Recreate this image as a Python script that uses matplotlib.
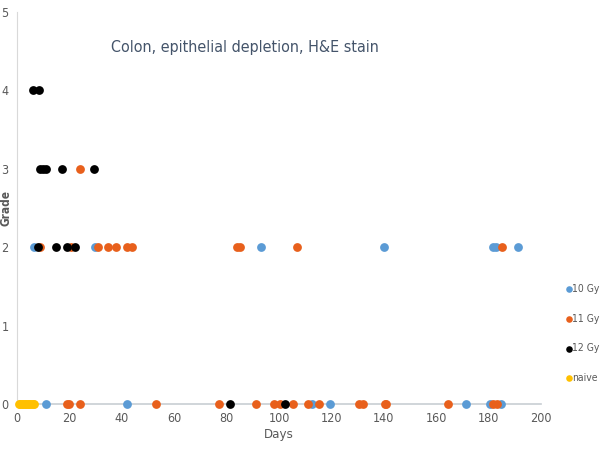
import matplotlib
matplotlib.use("Agg")
import matplotlib.pyplot as plt

plt.rcParams['font.family'] = ['DejaVu Sans']
plt.rcParams['font.stretch'] = 'condensed'

# 10 Gy
gy10_days = [6.6, 30.0, 93.0, 140.2, 181.8, 182.8, 191.0,
             11.0, 42.0, 112.6, 119.3, 171.5, 180.4, 184.6]
gy10_grade = [2, 2, 2, 2, 2, 2, 2,
              0, 0, 0, 0, 0, 0, 0]

# 11 Gy
gy11_days = [24.1,
             9.0, 20.5, 31.0, 34.9, 37.8, 41.9, 43.9, 83.8, 85.1, 106.8, 185.2,
             19.0, 20.0, 24.1, 52.9, 77.2, 91.4, 98.1, 100.2, 105.3, 111.1,
             115.2, 130.5, 132.2, 140.4, 140.9, 164.5, 181.7, 183.1]
gy11_grade = [3,
              2, 2, 2, 2, 2, 2, 2, 2, 2, 2, 2,
              0, 0, 0, 0, 0, 0, 0, 0, 0, 0,
              0, 0, 0, 0, 0, 0, 0, 0]

# 12 Gy
gy12_days = [6.1, 8.4, 9.0, 9.9, 11.1, 17.1, 29.4, 8.1, 14.9, 19.0, 22.1, 81.2, 102.4]
gy12_grade = [4, 4, 3, 3, 3, 3, 3, 2, 2, 2, 2, 0, 0]

# naive
naive_days = [0.7, 1.2, 1.8, 2.4, 3.0, 3.6, 4.2, 4.8, 5.4, 6.0, 6.4]
naive_grade = [0] * len(naive_days)

series = [
    ("10 Gy", gy10_days, gy10_grade, "#5B9BD5"),
    ("11 Gy", gy11_days, gy11_grade, "#E8601C"),
    ("12 Gy", gy12_days, gy12_grade, "#000000"),
    ("naive", naive_days, naive_grade, "#FFC000"),
]

fig = plt.figure(figsize=(6.0, 4.53), dpi=100)
ax = fig.add_axes([0.028, 0.108, 0.874, 0.866])

for label, d, g, c in series:
    ax.scatter(d, g, s=40, color=c, label=label, clip_on=False, zorder=3, linewidths=0)

ax.set_xlim(0, 200)
ax.set_ylim(0, 5)
ax.set_xticks(range(0, 201, 20))
ax.set_yticks(range(0, 6))
ax.tick_params(length=0, labelsize=9, labelcolor="#595959", pad=6)
for side in ["top", "right"]:
    ax.spines[side].set_visible(False)
ax.spines["left"].set_color("#D9D9D9")
ax.spines["bottom"].set_color("#C8CED3")
ax.spines["bottom"].set_linewidth(1.2)

ax.set_xlabel("Days", fontsize=9.5, color="#595959", labelpad=2)
ax.set_ylabel("Grade", fontsize=8.5, color="#595959", fontweight="bold")
ax.yaxis.set_label_coords(-0.009, 0.5)

ax.text(0.435, 0.91, "Colon, epithelial depletion, H&E stain", transform=ax.transAxes,
        ha="center", va="center", fontsize=11.5, color="#44546A")

ax.legend(loc="center left", bbox_to_anchor=(1.016, 0.18), frameon=False,
          fontsize=7.5, labelcolor="#595959", handletextpad=-0.75, labelspacing=1.9,
          markerscale=0.75)

fig.savefig("out.png", dpi=100)
